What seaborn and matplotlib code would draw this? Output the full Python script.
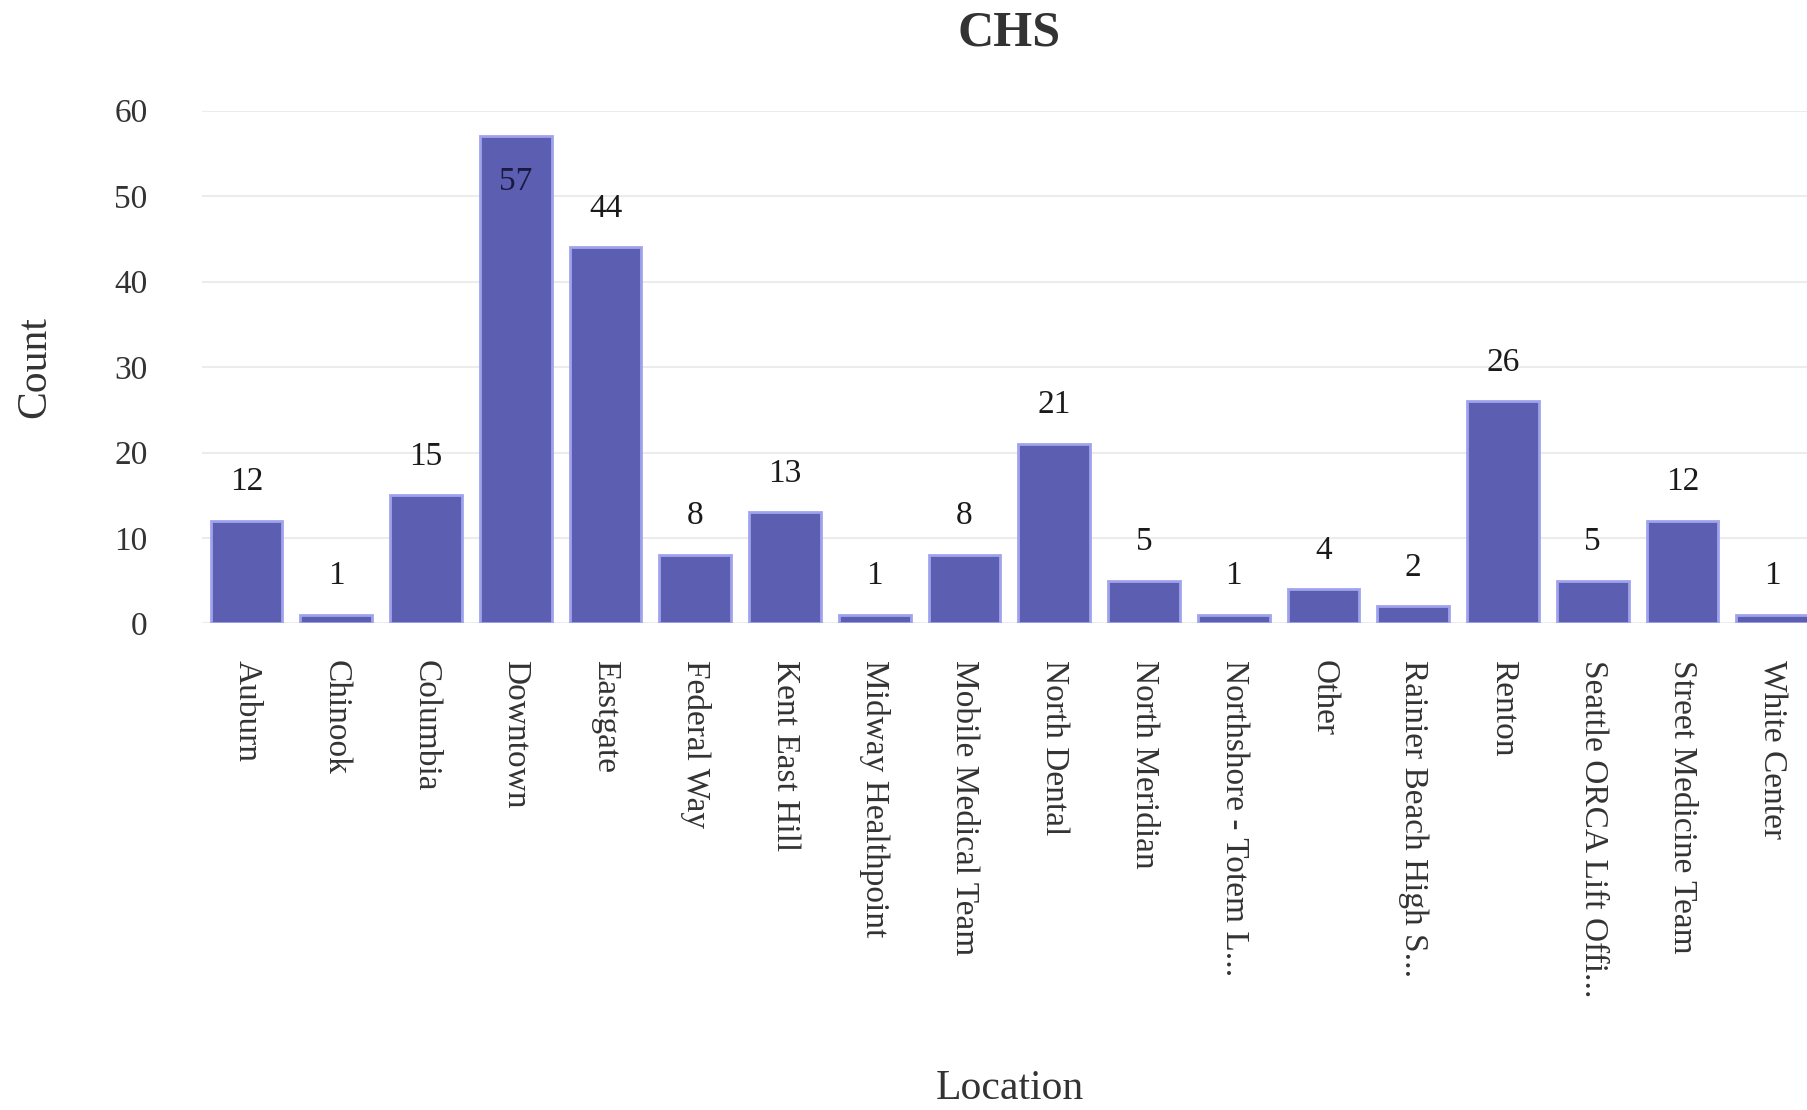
import matplotlib
matplotlib.use("Agg")
import matplotlib.pyplot as plt
import seaborn as sns
import pandas as pd

# ==========================================
# Data
# ==========================================

locations = [
    "Auburn", "Chinook", "Columbia", "Downtown", "Eastgate", "Federal Way",
    "Kent East Hill", "Midway Healthpoint", "Mobile Medical Team",
    "North Dental", "North Meridian", "Northshore - Totem L...", "Other",
    "Rainier Beach High S...", "Renton", "Seattle ORCA Lift Offi...",
    "Street Medicine Team", "White Center",
]
counts = [12, 1, 15, 57, 44, 8, 13, 1, 8, 21, 5, 1, 4, 2, 26, 5, 12, 1]
y_ticks = [0, 10, 20, 30, 40, 50, 60]

df = pd.DataFrame({"Location": locations, "Count": counts})

# ==========================================
# Style
# ==========================================

sns.set_style("white")
plt.rcParams["font.family"] = ["Liberation Serif", "DejaVu Serif"]

W, H = 1807, 1110
fig = plt.figure(figsize=(W / 100, H / 100), dpi=100)
ax = fig.add_axes([0.1116, 0.4383, 0.894, 0.4621])

sns.barplot(
    data=df, x="Location", y="Count", ax=ax,
    color="#5b5eb1", edgecolor="#a0a3ec", linewidth=2, width=0.8,
    saturation=1,
)

ax.set_ylim(0, 60)
ax.set_xlim(-0.5, len(locations) - 0.5)
ax.set_yticks(y_ticks)
ax.yaxis.grid(True, color="#ececec", linewidth=1.5)
ax.set_axisbelow(True)
ax.axhline(0, color="#e6e6f0", linewidth=2, zorder=0)
for s in ax.spines.values():
    s.set_visible(False)

ax.tick_params(axis="y", length=0, pad=39, labelsize=24, labelcolor="#333333")
ax.tick_params(axis="x", length=0, pad=26, labelsize=24, labelcolor="#333333")
plt.setp(ax.get_xticklabels(), rotation=270, ha="center", va="top",
         rotation_mode="default")

# data labels
for i, v in enumerate(counts):
    if v + 6 > 60:
        ax.annotate(str(v), (i, v), xytext=(0, -22), textcoords="offset points",
                    ha="center", va="top", fontsize=24, color="#1a1a40")
    else:
        ax.annotate(str(v), (i, v), xytext=(0, 17), textcoords="offset points",
                    ha="center", va="bottom", fontsize=24, color="#1a1a1a")

ax.set_xlabel("Location", fontsize=30, color="#333333")
ax.xaxis.label.set_va("center")
ax.xaxis.set_label_coords(0.5, -0.9076)
ax.set_ylabel("Count", fontsize=30, color="#333333")
ax.yaxis.label.set_va("center")
ax.yaxis.set_label_coords(-0.1032, 0.5)

fig.text(0.5586, 1 - 45 / H, "CHS", ha="center", va="baseline",
         fontsize=36, fontweight="bold", color="#333333")

fig.savefig("out.png", dpi=100)
